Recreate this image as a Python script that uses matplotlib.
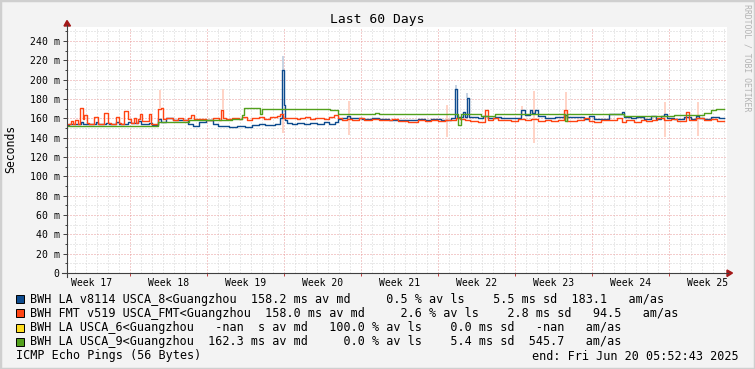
import numpy as np
import matplotlib
matplotlib.use("Agg")
import matplotlib.pyplot as plt
import matplotlib.transforms as mtransforms
from matplotlib.patches import Rectangle, Polygon
from matplotlib.lines import Line2D

# time axis: days since start (Apr 21 05:52:43), values in milliseconds
blue_day = [0.0, 0.21, 1.27, 1.42, 2.64, 2.79, 3.55, 3.85, 4.45, 4.76, 5.52, 5.82, 6.42, 6.73,
            7.48, 7.73, 8.24, 8.55, 9.0, 9.61, 10.21, 10.97, 11.42, 12.03, 12.64, 13.24, 13.7, 14.76,
            15.45, 16.21, 16.82, 17.42, 18.03, 18.94, 19.39, 19.55, 19.73, 19.82, 20.0, 20.45, 20.91,
            21.52, 22.12, 22.73, 23.33, 23.79, 24.39, 24.64, 25.0, 25.45, 25.76, 26.82, 27.73, 28.33, 29.24,
            30.09, 30.7, 31.91, 32.51, 33.12, 34.03, 34.94, 35.3, 35.48, 36.0, 36.15, 36.36, 36.55, 37.36,
            37.82, 38.27, 38.88, 39.48, 40.39, 41.3, 41.6, 42.06, 42.27, 42.51, 42.82, 43.42, 44.33,
            45.18, 45.48, 47.0, 47.45, 47.91, 49.27, 49.42, 50.48, 50.64, 51.24, 51.7, 52.45, 53.06,
            53.51, 53.97, 54.27, 54.57, 55.18, 56.09, 56.7, 57.15, 57.45, 57.91, 58.51, 59.27, 59.7]
blue_ms = [153.1, 153.8, 156.6, 153.8, 155.9, 153.8, 155.2, 153.8, 155.9, 153.8, 156.6, 155.2, 157.2, 154.5,
           155.2, 153.1, 159.3, 156.6, 160.0, 158.6, 157.9, 153.8, 151.7, 156.6, 157.9, 154.5, 152.4, 151.0,
           152.4, 151.4, 153.1, 153.8, 153.1, 154.5, 160.0, 210.5, 174.0, 158.3, 155.2, 154.5, 155.2,
           153.8, 155.2, 154.5, 155.9, 153.8, 156.6, 159.3, 160.7, 162.8, 160.0, 159.3, 160.0, 159.3, 158.6,
           158.6, 157.9, 159.3, 157.9, 159.3, 158.6, 160.0, 190.0, 161.4, 166.2, 161.4, 181.0, 161.4, 160.0,
           162.8, 160.0, 161.4, 160.7, 160.0, 168.3, 163.5, 168.3, 165.2, 168.3, 162.8, 160.7, 161.4,
           163.5, 161.4, 159.3, 162.8, 159.3, 164.8, 164.1, 166.2, 161.4, 160.0, 161.4, 159.3, 162.8,
           159.3, 162.8, 164.8, 160.7, 159.3, 161.4, 159.3, 162.8, 160.0, 159.3, 161.4, 160.0, 160.0]

orange_day = [0.0, 0.36, 0.52, 0.76, 0.97, 1.18, 1.42, 1.58, 1.79, 1.97, 2.48, 2.79, 3.39, 3.7, 4.0,
              4.45, 4.76, 4.91, 5.21, 5.52, 5.82, 6.12, 6.27, 6.42, 6.64, 6.82, 7.48, 7.64, 8.24, 8.55,
              8.7, 9.0, 9.61, 10.06, 10.52, 10.97, 11.27, 11.58, 12.64, 13.24, 13.85, 14.0, 14.21, 14.45,
              15.0, 15.61, 15.91, 16.36, 16.82, 17.42, 17.88, 18.48, 19.09, 19.39, 19.61, 20.0, 20.91,
              21.21, 21.67, 22.12, 22.58, 23.33, 23.79, 24.24, 24.64, 25.0, 25.45, 25.91, 26.52, 26.97,
              27.73, 28.33, 28.94, 29.55,
              30.09, 31.0, 31.91, 32.51, 33.12, 33.73, 34.33, 34.94, 35.39, 35.7, 36.15, 36.6, 37.36,
              37.82, 38.03, 38.27, 38.73, 39.18, 39.79, 40.39, 41.0, 41.6, 42.21, 42.82, 43.42, 44.03, 44.64,
              45.18, 45.42, 46.39, 47.0, 47.45, 47.91, 48.51, 49.12, 50.03, 50.48, 50.79, 51.55, 52.15,
              52.6, 53.21, 53.67, 54.27, 54.88, 55.48, 56.24, 56.55, 57.15, 57.91, 58.51, 59.12, 59.7]
orange_ms = [153.8, 157.2, 154.5, 158.3, 154.5, 171.0, 159.3, 163.5, 155.2, 154.5, 161.4, 154.5, 165.5, 155.2, 154.5,
             161.4, 155.2, 154.5, 167.6, 159.3, 155.2, 160.0, 155.2, 159.3, 164.1, 157.2, 164.8, 154.5, 169.7, 171.0,
             159.3, 160.7, 158.6, 160.0, 158.6, 160.7, 163.5, 159.3, 158.6, 160.0, 158.6, 169.0, 160.0, 159.3,
             160.0, 159.3, 161.4, 158.6, 160.0, 161.4, 159.3, 161.4, 162.8, 164.8, 160.0, 160.7, 159.3,
             160.0, 161.4, 159.3, 160.7, 159.3, 161.4, 163.5, 160.7, 158.6, 159.3, 158.6, 160.0, 158.6,
             159.3, 157.9, 158.6, 159.3,
             157.2, 156.6, 158.6, 157.2, 158.6, 157.2, 158.6, 157.9, 160.0, 159.3, 157.9, 157.2, 156.6,
             155.9, 169.0, 158.6, 160.0, 157.9, 158.6, 157.2, 159.3, 157.9, 159.3, 157.2, 158.6, 157.2, 158.6,
             169.0, 157.2, 158.6, 160.0, 157.2, 156.6, 157.9, 158.6, 160.0, 156.6, 157.9, 156.6, 158.6,
             157.2, 158.6, 160.0, 157.9, 159.3, 157.2, 166.2, 158.6, 160.0, 157.9, 159.3, 157.2, 157.2]

yellow_day = [0.0, 59.7]
yellow_ms = [np.nan, np.nan]

green_day = [0.0, 8.24, 11.12, 15.0, 15.91, 16.09, 17.58, 17.73, 23.94, 24.39, 24.64, 28.03, 28.33,
             35.55, 35.85, 37.67, 37.97, 38.88, 45.24, 45.48, 50.64, 55.18, 57.91, 58.51, 58.97, 59.7]
green_ms = [152.4, 155.9, 157.9, 159.3, 163.5, 170.3, 164.1, 169.3, 168.3, 169.0, 164.5, 165.5, 164.5,
            153.1, 164.5, 162.8, 162.1, 164.5, 157.2, 164.1, 162.4, 163.5, 165.2, 168.6, 169.3, 169.3]

# faint "smoke" (packet spread) spikes
fmt_smoke_day = [8.45, 14.18, 19.64, 25.64, 34.55, 41.36, 42.45, 45.36, 54.36, 57.36]
fmt_smoke_lo = [171, 170, 145, 143, 141, 162, 134, 160, 141, 142]
fmt_smoke_hi = [189, 190, 165, 178, 174, 173, 188, 187, 177, 177]
la_smoke_day = [19.64, 35.36, 36.36]
la_smoke_lo = [210, 190, 181]
la_smoke_hi = [224, 195, 186]

week_names = ["Week 17", "Week 18", "Week 19", "Week 20", "Week 21",
              "Week 22", "Week 23", "Week 24", "Week 25"]
first_sunday = 5.755   # Sun Apr 27 00:00 in days since start
y_ticks = list(range(0, 241, 20))

legend_lines = [
    "BWH LA v8114 USCA_8<Guangzhou  158.2 ms av md     0.5 % av ls    5.5 ms sd  183.1   am/as",
    "BWH FMT v519 USCA_FMT<Guangzhou  158.0 ms av md     2.6 % av ls    2.8 ms sd   94.5   am/as",
    "BWH LA USCA_6<Guangzhou   -nan  s av md   100.0 % av ls    0.0 ms sd   -nan   am/as",
    "BWH LA USCA_9<Guangzhou  162.3 ms av md     0.0 % av ls    5.4 ms sd  545.7   am/as",
]
colors = ["#0d4b8e", "#ff4412", "#ffdd1f", "#52a01c"]

W, H = 755, 369
MONO = "DejaVu Sans Mono"


def fx(x):
    return x / W


def fy(y):
    return 1 - y / H


fig = plt.figure(figsize=(W / 100, H / 100), dpi=100, facecolor="#f3f3f3")
fig.add_artist(Rectangle((0, 0), 1, 1, transform=fig.transFigure, fill=False,
                         edgecolor="#cfcfcf", lw=2.5))

ax = fig.add_axes([fx(67), fy(273), 660 / W, (273 - 26.5) / H])
ax.set_facecolor("white")
ax.set_xlim(0, 60)
ax.set_ylim(0, 255)
for s in ax.spines.values():
    s.set_visible(False)

sundays = [first_sunday + 7 * k for k in range(8)]
midnights = [first_sunday - 5 + d for d in range(60)]
ax.set_xticks(sundays)
ax.set_xticks(midnights, minor=True)
ax.set_xticklabels([])
ax.set_yticks(y_ticks)
ax.set_yticks(range(10, 251, 20), minor=True)
ax.set_yticklabels([("%d m" % v) if v else "0" for v in y_ticks], family=MONO, fontsize=7.1)
ax.tick_params(axis="y", which="major", length=3, width=0.7, color="#404040", pad=2.2)
ax.tick_params(axis="y", which="minor", length=1.5, width=0.7, color="#404040")
ax.tick_params(axis="x", which="major", length=2.5, width=0.7, color="#c04040")
ax.tick_params(axis="x", which="minor", length=0)
ax.grid(which="minor", color="#d4d4d4", lw=0.72, ls=(0, (1, 2)))
ax.grid(which="major", color="#e89a9a", lw=0.72, ls=(0, (1, 2)))

# smoke
ax.vlines(fmt_smoke_day, fmt_smoke_lo, fmt_smoke_hi, color="#ffd3c6", lw=1.4, zorder=1.8)
ax.vlines(la_smoke_day, la_smoke_lo, la_smoke_hi, color="#c7d3e3", lw=1.4, zorder=1.8)

for d, v, c in [(blue_day, blue_ms, colors[0]), (orange_day, orange_ms, colors[1]),
                (yellow_day, yellow_ms, colors[2]), (green_day, green_ms, colors[3])]:
    ax.step(d, v, where="post", color=c, lw=1.0, zorder=3)

# week labels centred between the Sunday lines
lab_tr = mtransforms.blended_transform_factory(ax.transData, fig.transFigure)
for k, name in enumerate(week_names):
    ax.text(first_sunday - 3.5 + 7 * k, fy(283), name, transform=lab_tr, ha="center",
            va="center", family=MONO, fontsize=7.0, clip_on=False)

# axis lines with arrows
axc = "#404040"
fig.add_artist(Line2D([fx(62), fx(728)], [fy(273), fy(273)], color=axc, lw=0.8))
fig.add_artist(Line2D([fx(67), fx(67)], [fy(277), fy(25)], color=axc, lw=0.8))
fig.add_artist(Polygon([(fx(727), fy(270)), (fx(727), fy(276.5)), (fx(732.5), fy(273))],
                       closed=True, transform=fig.transFigure, color="#a31818"))
fig.add_artist(Polygon([(fx(64), fy(26)), (fx(70.5), fy(26)), (fx(67), fy(20.5))],
                       closed=True, transform=fig.transFigure, color="#a31818"))

fig.text(fx(377), fy(19), "Last 60 Days", ha="center", va="center", family=MONO, fontsize=9.4)
fig.text(fx(11), fy(149), "Seconds", rotation=90, ha="center", va="center", family=MONO, fontsize=8.3)
fig.text(fx(746.5), fy(4), "RRDTOOL / TOBI OETIKER", rotation=270, ha="center", va="top",
         family=MONO, fontsize=5.9, color="#b3b3b3")

rows = [299, 313.2, 327.5, 341.5]
for y, line, c in zip(rows, legend_lines, colors):
    fig.add_artist(Rectangle((fx(16), fy(y + 4)), 8 / W, 8 / H, transform=fig.transFigure,
                             facecolor=c, edgecolor="black", lw=0.7))
    fig.text(fx(30), fy(y + 4), line, ha="left", va="baseline", family=MONO, fontsize=8.5)

fig.text(fx(16), fy(359.5), "ICMP Echo Pings (56 Bytes)", ha="left", va="baseline",
         family=MONO, fontsize=8.5)
fig.text(fx(739), fy(359.5), "end: Fri Jun 20 05:52:43 2025", ha="right", va="baseline",
         family=MONO, fontsize=8.5)

fig.savefig("out.png", dpi=100, facecolor=fig.get_facecolor())
